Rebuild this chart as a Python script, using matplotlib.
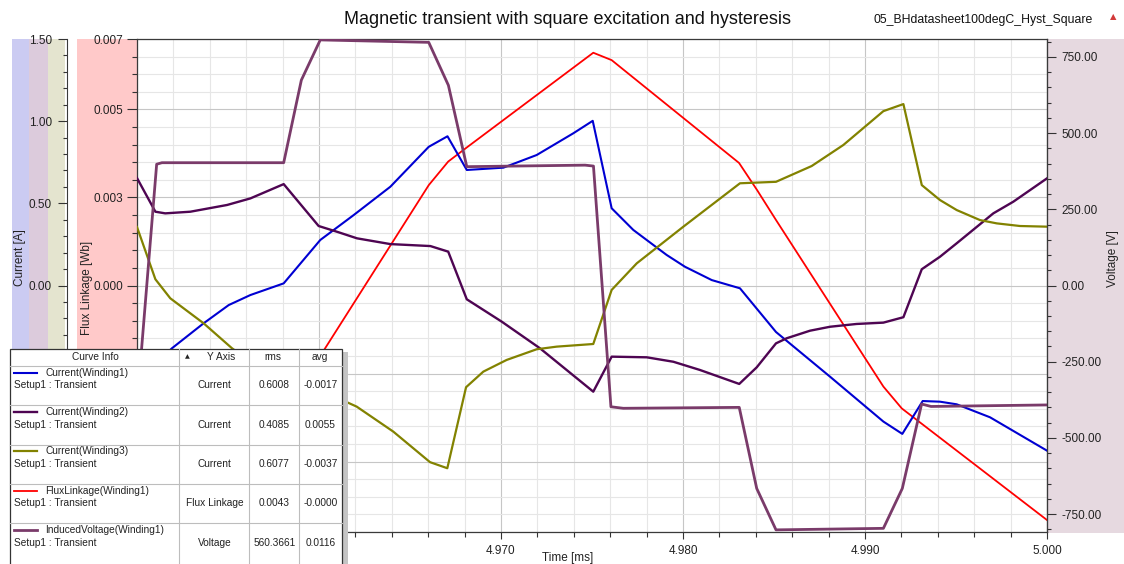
import matplotlib
matplotlib.use("Agg")
import matplotlib.pyplot as plt
from matplotlib.patches import Rectangle
from matplotlib.ticker import MultipleLocator, FixedLocator, FuncFormatter

plt.rcParams["font.family"] = ["Liberation Sans", "DejaVu Sans"]

W, H = 1124, 564

# ---- curve data (time in ms) ----
t_i1 = [4.9500, 4.95108, 4.95192, 4.95366, 4.95504, 4.95623, 4.95806, 4.96007,
        4.96191, 4.96392, 4.96603, 4.96706, 4.96812, 4.97013, 4.97196, 4.97397,
        4.97504, 4.97608, 4.97727, 4.97910, 4.98011, 4.98158, 4.98313, 4.98511,
        4.98808, 4.99101, 4.99205, 4.99317, 4.99412, 4.99504, 4.99687, 5.0000]
i1 = [-1.002, -0.470, -0.382, -0.230, -0.119, -0.058, 0.013, 0.277,
      0.429, 0.601, 0.844, 0.908, 0.703, 0.717, 0.794, 0.926,
      1.002, 0.470, 0.338, 0.186, 0.114, 0.033, -0.017, -0.283,
      -0.555, -0.828, -0.903, -0.703, -0.707, -0.723, -0.802, -1.005]

t_i2 = [4.9500, 4.95101, 4.95155, 4.95293, 4.95495, 4.95623, 4.95806, 4.95998,
        4.96099, 4.96209, 4.96392, 4.96612, 4.96710, 4.96812, 4.97004, 4.97214,
        4.97507, 4.97608, 4.97801, 4.97947, 4.98093, 4.98309, 4.98405, 4.98511,
        4.98570, 4.98698, 4.98808, 4.98954, 4.99101, 4.99211, 4.99312, 4.99412,
        4.99504, 4.99705, 4.99815, 5.0000]
i2 = [0.654, 0.449, 0.439, 0.449, 0.490, 0.530, 0.617, 0.362,
      0.327, 0.287, 0.252, 0.240, 0.206, -0.084, -0.220, -0.382,
      -0.646, -0.433, -0.437, -0.464, -0.514, -0.599, -0.498, -0.352,
      -0.321, -0.275, -0.251, -0.234, -0.226, -0.193, 0.099, 0.175,
      0.257, 0.439, 0.510, 0.652]

t_i3 = [4.9500, 4.95101, 4.95183, 4.95366, 4.95522, 4.95665, 4.95813, 4.96011,
        4.96125, 4.96207, 4.96408, 4.96610, 4.96705, 4.96808, 4.96903, 4.97031,
        4.97196, 4.97306, 4.97507, 4.97608, 4.97746, 4.98002, 4.98313, 4.98511,
        4.98707, 4.98881, 4.99101, 4.99211, 4.99312, 4.99412, 4.99504, 4.99632,
        4.99724, 4.99852, 5.0000]
i3 = [0.356, 0.038, -0.078, -0.230, -0.382, -0.496, -0.622, -0.631,
      -0.696, -0.737, -0.889, -1.075, -1.112, -0.619, -0.524, -0.453,
      -0.388, -0.372, -0.356, -0.027, 0.135, 0.358, 0.622, 0.631,
      0.727, 0.855, 1.061, 1.104, 0.611, 0.520, 0.459, 0.398,
      0.378, 0.362, 0.358]

t_flux = [4.9500, 4.95104, 4.95137, 4.95806, 4.95903, 4.96007, 4.96603, 4.96710,
          4.96812, 4.97507, 4.97608, 4.98308, 4.98407, 4.98511, 4.99101, 4.99202,
          5.0000]
flux = [-0.00660, -0.00649, -0.00635, -0.00337, -0.00283, -0.00200, 0.00285, 0.00352,
        0.00392, 0.00661, 0.00640, 0.00348, 0.00271, 0.00186, -0.00287, -0.00349,
        -0.00666]

t_volt = [4.9500, 4.95108, 4.95137, 4.95806, 4.95903, 4.96007, 4.96603, 4.96711,
          4.96812, 4.97462, 4.97508, 4.97604, 4.97672, 4.98309, 4.98405, 4.98511,
          4.99101, 4.99205, 4.99311, 4.99363, 5.0000]
volt = [-392, 398, 403, 403, 674, 806, 798, 657,
        390, 395, 392, -398, -403, -400, -666, -802,
        -797, -666, -389, -397, -392]

curve_names = ["Current(Winding1)", "Current(Winding2)", "Current(Winding3)",
               "FluxLinkage(Winding1)", "InducedVoltage(Winding1)"]
curve_axes = ["Current", "Current", "Current", "Flux Linkage", "Voltage"]
curve_rms = ["0.6008", "0.4085", "0.6077", "0.0043", "560.3661"]
curve_avg = ["-0.0017", "0.0055", "-0.0037", "-0.0000", "0.0116"]

x_ticks = [4.95, 4.96, 4.97, 4.98, 4.99, 5.00]
flux_ticks = [-0.007, -0.005, -0.0025, 0.0, 0.0025, 0.005, 0.007]
cur_ticks = [-1.5, -1.0, -0.5, 0.0, 0.5, 1.0, 1.5]
volt_ticks = [-750, -500, -250, 0, 250, 500, 750]

C_I1, C_I2, C_I3 = "#0000d2", "#4e0552", "#828200"
C_FLUX, C_VOLT = "#ff0000", "#7a3b6a"
colors = [C_I1, C_I2, C_I3, C_FLUX, C_VOLT]
widths = [1.5, 1.7, 1.6, 1.3, 2.0]

TXT = "#222222"
FS = 8.5
LFS = 7.3

fig = plt.figure(figsize=(W / 100, H / 100), dpi=100)


def frect(l, t, r, b):
    return [l / W, 1 - b / H, (r - l) / W, (b - t) / H]


def fmt_above(fmt, lo):
    # labels that would sit under the curve-info table are left blank
    return FuncFormatter(lambda v, pos: fmt % v if v > lo else "")


# coloured axis bands behind everything
bg = fig.add_axes([0, 0, 1, 1], zorder=-1)
bg.set_xlim(0, W)
bg.set_ylim(H, 0)
bg.axis("off")
for l, r, c in [(12, 29, "#cbcbf2"), (29, 48, "#dccbdc"), (48, 65, "#e4e4cf"),
                (77, 137, "#ffc9c9"), (1048, W, "#e6d9e0")]:
    bg.add_patch(Rectangle((l, 39), r - l, 494, facecolor=c, edgecolor="none"))

PL, PT, PR, PB = 137, 39, 1047, 532
ax = fig.add_axes(frect(PL, PT, PR, PB))
ax.set_xlim(4.95, 5.0)
ax.set_ylim(-0.007, 0.007)
ax.set_axisbelow(True)

ax.xaxis.set_major_locator(FixedLocator(x_ticks))
ax.xaxis.set_minor_locator(MultipleLocator(0.002))
ax.xaxis.set_major_formatter(fmt_above("%.3f", 4.965))
ax.yaxis.set_major_locator(FixedLocator(flux_ticks))
ax.yaxis.set_minor_locator(MultipleLocator(0.0005))
ax.yaxis.set_major_formatter(fmt_above("%.3f", -0.002))
ax.grid(which="minor", color="#e6e6e6", lw=0.8)
ax.grid(which="major", color="#c6c6c6", lw=0.8)
ax.tick_params(which="major", length=7, width=0.8, color="#333333",
               labelsize=FS, labelcolor=TXT, pad=3)
ax.tick_params(which="minor", length=3.5, width=0.8, color="#333333")
ax.tick_params(axis="x", which="major", length=5, pad=4)
for s in ax.spines.values():
    s.set_color("#3a3a3a")
    s.set_linewidth(0.9)

# current axis, offset to the left
ax_cur = ax.twinx()
ax_cur.set_ylim(-1.5, 1.5)
ax_cur.yaxis.set_ticks_position("left")
ax_cur.yaxis.set_label_position("left")
ax_cur.spines["left"].set_position(("axes", (66.7 - PL) / (PR - PL)))
ax_cur.spines["left"].set_visible(True)
ax_cur.spines["left"].set_color("#3a3a3a")
for k in ("right", "top", "bottom"):
    ax_cur.spines[k].set_visible(False)
ax_cur.yaxis.set_major_locator(FixedLocator(cur_ticks))
ax_cur.yaxis.set_minor_locator(MultipleLocator(0.1))
ax_cur.yaxis.set_major_formatter(fmt_above("%.2f", -0.4))
ax_cur.tick_params(which="major", length=6.5, width=0.8, color="#333333",
                   labelsize=FS, labelcolor=TXT, pad=4)
ax_cur.tick_params(which="minor", length=3, width=0.8, color="#333333")

# voltage axis on the right
ax_v = ax.twinx()
ax_v.set_ylim(-809, 809)
ax_v.yaxis.set_major_locator(FixedLocator(volt_ticks))
ax_v.yaxis.set_minor_locator(MultipleLocator(50))
ax_v.yaxis.set_major_formatter(fmt_above("%.2f", -1000))
for k in ("left", "top", "bottom"):
    ax_v.spines[k].set_visible(False)
ax_v.spines["right"].set_color("#3a3a3a")
ax_v.tick_params(which="major", length=6.5, width=0.8, color="#333333",
                 labelsize=FS, labelcolor=TXT, pad=4)
ax_v.tick_params(which="minor", length=3, width=0.8, color="#333333")

ax.plot(t_flux, flux, color=C_FLUX, lw=widths[3])
ax_cur.plot(t_i1, i1, color=C_I1, lw=widths[0])
ax_cur.plot(t_i2, i2, color=C_I2, lw=widths[1])
ax_cur.plot(t_i3, i3, color=C_I3, lw=widths[2])
ax_v.plot(t_volt, volt, color=C_VOLT, lw=widths[4])

# overlay: titles, axis labels and the curve-info table
ov = fig.add_axes([0, 0, 1, 1], zorder=5)
ov.set_xlim(0, W)
ov.set_ylim(H, 0)
ov.axis("off")
ov.patch.set_visible(False)

ov.text(567, 19.5, "Magnetic transient with square excitation and hysteresis",
        ha="center", va="center", fontsize=13, color="#111111")
ov.text(1093, 20, "05_BHdatasheet100degC_Hyst_Square", ha="right", va="center",
        fontsize=8.8, color="#111111")
ov.text(1113, 17, "\u25B2", ha="center", va="center", fontsize=6,
        color="#d23a3a", family="DejaVu Sans")

ov.text(20.5, 258, "Current [A]", rotation=90, ha="center", va="center",
        fontsize=FS, color=TXT)
ov.text(87, 288, "Flux Linkage [Wb]", rotation=90, ha="center", va="center",
        fontsize=FS, color=TXT)
ov.text(1113, 259, "Voltage [V]", rotation=90, ha="center", va="center",
        fontsize=FS, color=TXT)
ov.text(568, 558, "Time [ms]", ha="center", va="center", fontsize=FS, color=TXT)

LL, LT, LR = 10, 349, 342
ov.add_patch(Rectangle((LR, 352), 6, H - 350, facecolor="#c4c4c4", edgecolor="none"))
ov.add_patch(Rectangle((LL, LT), LR - LL, H - LT + 10, facecolor="white",
                       edgecolor="#333333", lw=0.9))
col_x = [179.3, 249.3, 299]
row_tops = [366, 405.3, 444.6, 484, 523.3]
sep = "#bdbdbd"
for x in col_x:
    ov.plot([x, x], [LT, H], color=sep, lw=0.8)
for y in row_tops:
    ov.plot([LL, LR], [y, y], color=sep, lw=0.8)

hy = 357.5
ov.text(95, hy, "Curve Info", ha="center", va="center", fontsize=LFS, color=TXT)
ov.text(187, hy - 0.5, "\u25B2", ha="center", va="center", fontsize=4.5,
        color=TXT, family="DejaVu Sans")
ov.text(221, hy, "Y Axis", ha="center", va="center", fontsize=LFS, color=TXT)
ov.text(273, hy, "rms", ha="center", va="center", fontsize=LFS, color=TXT)
ov.text(320, hy, "avg", ha="center", va="center", fontsize=LFS, color=TXT)

for k, top in enumerate(row_tops):
    y1, y2 = top + 6.5, top + 19.5
    ov.plot([14, 37], [y1, y1], color=colors[k], lw=widths[k])
    ov.text(45, y1, curve_names[k], ha="left", va="center", fontsize=LFS, color=TXT)
    ov.text(14, y2, "Setup1 : Transient", ha="left", va="center", fontsize=LFS, color=TXT)
    ov.text(214.5, y2, curve_axes[k], ha="center", va="center", fontsize=LFS, color=TXT)
    ov.text(274.5, y2, curve_rms[k], ha="center", va="center", fontsize=LFS, color=TXT)
    ov.text(320.5, y2, curve_avg[k], ha="center", va="center", fontsize=LFS, color=TXT)

fig.savefig("out.png", dpi=100)
